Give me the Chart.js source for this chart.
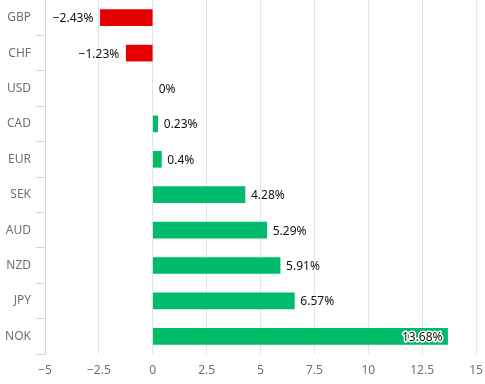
<!DOCTYPE html>
<html>
<head>
<meta charset="utf-8">
<script src="https://cdn.jsdelivr.net/npm/chart.js@4/dist/chart.umd.min.js"></script>
<style>
  html, body { margin: 0; padding: 0; background: #fff; }
  #wrap { width: 485px; height: 384px; }
</style>
</head>
<body>
<div id="wrap"><canvas id="fxChart"></canvas></div>
<script>
var currencies = ['GBP', 'CHF', 'USD', 'CAD', 'EUR', 'SEK', 'AUD', 'NZD', 'JPY', 'NOK'];
var changes = [-2.43, -1.23, 0, 0.23, 0.4, 4.28, 5.29, 5.91, 6.57, 13.68];
var xTicks = [-5, -2.5, 0, 2.5, 5, 7.5, 10, 12.5, 15];

var FONT = '"Noto Sans", "DejaVu Sans", sans-serif';

function fmt(v) {
    var s = String(Math.abs(v)) + '%';
    return v < 0 ? '\u2212' + s : s;
}

// draw value labels next to (or inside) each bar
var barLabels = {
    id: 'barLabels',
    afterDatasetsDraw: function (chart) {
        var ctx = chart.ctx;
        var meta = chart.getDatasetMeta(0);
        var area = chart.chartArea;
        ctx.save();
        ctx.font = '12px ' + FONT;
        ctx.textBaseline = 'middle';
        ctx.lineJoin = 'round';
        ctx.lineWidth = 3;
        ctx.strokeStyle = '#fff';
        ctx.fillStyle = '#111';
        meta.data.forEach(function (bar, i) {
            var v = changes[i];
            var text = fmt(v);
            var w = ctx.measureText(text).width;
            var x, align;
            if (v < 0) {
                x = bar.x - 7; align = 'right';
            } else {
                x = bar.x + 6; align = 'left';
                if (x + w > area.right) { x = bar.x - 5; align = 'right'; }
            }
            ctx.textAlign = align;
            ctx.strokeText(text, x, bar.y + 1);
            ctx.fillText(text, x, bar.y + 1);
        });
        ctx.restore();
    }
};

var ctx = document.getElementById('fxChart').getContext('2d');
new Chart(ctx, {
    type: 'bar',
    data: {
        labels: currencies,
        datasets: [{
            data: changes,
            backgroundColor: changes.map(function (v) {
                if (v === 0) return 'rgba(0,0,0,0)';
                return v < 0 ? '#e60000' : '#00bb6a';
            }),
            borderWidth: 0,
            barThickness: 16
        }]
    },
    options: {
        indexAxis: 'y',
        responsive: true,
        maintainAspectRatio: false,
        animation: false,
        layout: { padding: { top: 0, right: 9, left: 0, bottom: 0 } },
        plugins: {
            legend: { display: false },
            tooltip: { enabled: false }
        },
        scales: {
            x: {
                min: -5,
                max: 15,
                afterBuildTicks: function (axis) {
                    axis.ticks = xTicks.map(function (v) { return { value: v }; });
                },
                afterFit: function (axis) {
                    axis.height = 30;
                    axis.paddingLeft = 0;
                    axis.paddingRight = 0;
                },
                border: { display: false },
                grid: { color: '#e0e6f1', drawTicks: false },
                ticks: {
                    padding: 9,
                    color: '#6e7079',
                    font: { family: FONT, size: 12 },
                    callback: function (v) { return v < 0 ? '\u2212' + Math.abs(v) : v; }
                }
            },
            y: {
                afterFit: function (axis) {
                    axis.width = 45;
                    axis.paddingTop = 0;
                    axis.paddingBottom = 0;
                },
                border: { display: true, color: '#ccd6eb' },
                grid: {
                    offset: true,
                    drawOnChartArea: false,
                    drawTicks: true,
                    tickLength: 9,
                    color: '#ccd6eb'
                },
                ticks: {
                    padding: 5,
                    color: '#6e7079',
                    font: { family: FONT, size: 12 }
                }
            }
        }
    },
    plugins: [barLabels]
});
</script>
</body>
</html>
